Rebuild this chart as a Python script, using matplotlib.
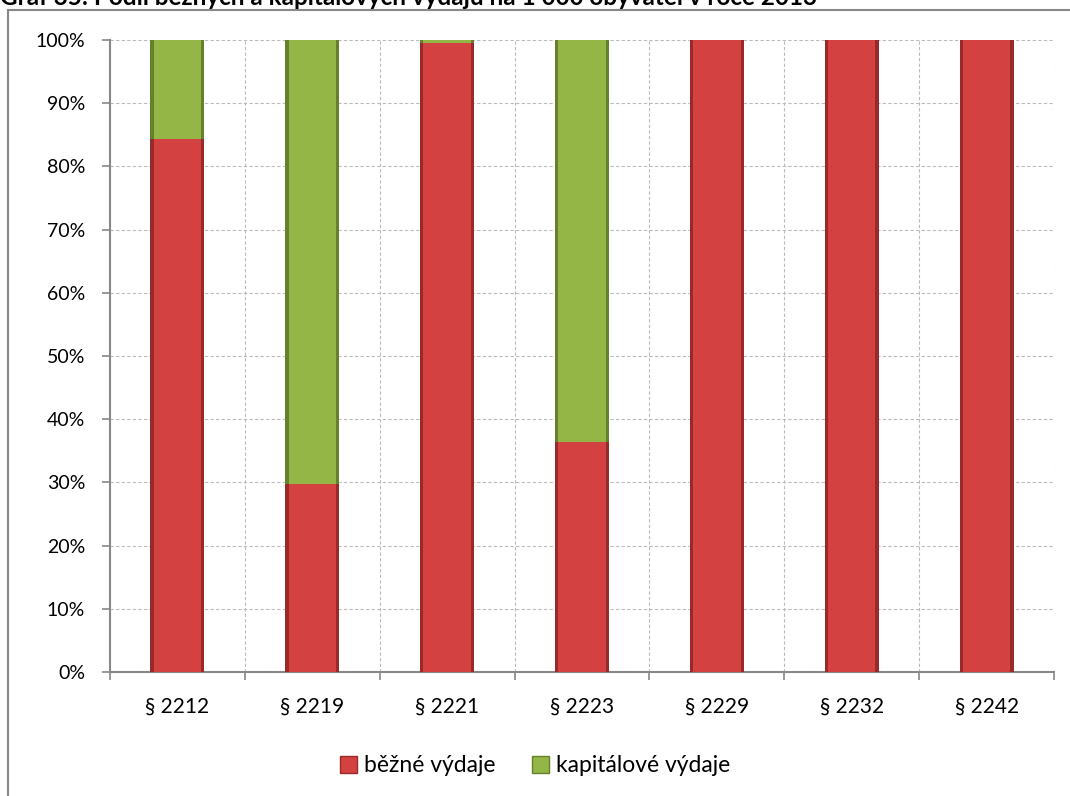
import matplotlib
matplotlib.use("Agg")
import matplotlib.pyplot as plt
from matplotlib.patches import Rectangle, Patch
import numpy as np

plt.rcParams['font.family'] = ['Lato', 'DejaVu Sans']

categories = ["§ 2212", "§ 2219", "§ 2221", "§ 2223", "§ 2229", "§ 2232", "§ 2242"]
bezne = [84.3, 29.8, 99.6, 36.4, 100.0, 100.0, 100.0]
kapitalove = [15.7, 70.2, 0.4, 63.6, 0.0, 0.0, 0.0]
series_names = ["běžné výdaje", "kapitálové výdaje"]
yticks = [0, 10, 20, 30, 40, 50, 60, 70, 80, 90, 100]
title = "Graf 35: Podíl běžných a kapitálových výdajů na 1 000 obyvatel v roce 2013"

red_main, red_dark = "#D34240", "#9A2A2A"
green_main, green_dark = "#93B646", "#66812C"

fig = plt.figure(figsize=(10.7, 7.96), dpi=100)
ax = fig.add_axes([110/1070, 1-672/796, (1054-110)/1070, (672-40)/796])

x = np.arange(len(categories))
w = 0.40
bez = np.array(bezne)
kap = np.array(kapitalove)

# base (dark edge) then inner fill for a mild bevel look
ax.bar(x, bez, width=w, color=red_dark, zorder=3)
ax.bar(x, bez, width=w*0.88, color=red_main, zorder=4)
ax.bar(x, kap, bottom=bez, width=w, color=green_dark, zorder=3)
ax.bar(x, kap, bottom=bez, width=w*0.88, color=green_main, zorder=4)

ax.set_xlim(-0.5, len(categories) - 0.5)
ax.set_ylim(0, 100)
ax.set_yticks(yticks)
ax.set_yticklabels([f"{v}%" for v in yticks], fontsize=14)
ax.set_xticks(x)
ax.set_xticklabels(categories, fontsize=15)
ax.tick_params(axis='x', length=0, pad=18)
ax.set_xticks(np.arange(-0.5, len(categories)), minor=True)
ax.tick_params(axis='x', which='minor', length=6, color='#888888', width=1.2)
ax.tick_params(axis='y', length=6, color='#888888', width=1.2, pad=12)

for s in ['top', 'right']:
    ax.spines[s].set_visible(False)
for s in ['left', 'bottom']:
    ax.spines[s].set_color('#888888')
    ax.spines[s].set_linewidth(1.5)

gl = dict(color='#BBBBBB', linestyle=(0, (3, 2)), linewidth=0.8, zorder=0)
for v in yticks[1:]:
    ax.axhline(v, **gl)
for b in np.arange(0.5, len(categories)):
    ax.axvline(b, **gl)

# frame around chart
fig.patches.append(Rectangle((8/1070, -0.01), 1.02, 1-10/796+0.01, transform=fig.transFigure,
                             fill=False, edgecolor='#888888', linewidth=1.5))

fig.text(0.0, 1-5/796, title, fontsize=17.5, fontweight='bold', ha='left', va='baseline')

handles = [Patch(facecolor=red_main, edgecolor=red_dark),
           Patch(facecolor=green_main, edgecolor=green_dark)]
fig.legend(handles, series_names, loc='center', bbox_to_anchor=(0.5, 1-766/796), ncol=2,
           frameon=False, fontsize=16.5, handlelength=0.75, handleheight=0.75,
           handletextpad=0.3, columnspacing=1.6)

fig.savefig("out.png", dpi=100)
